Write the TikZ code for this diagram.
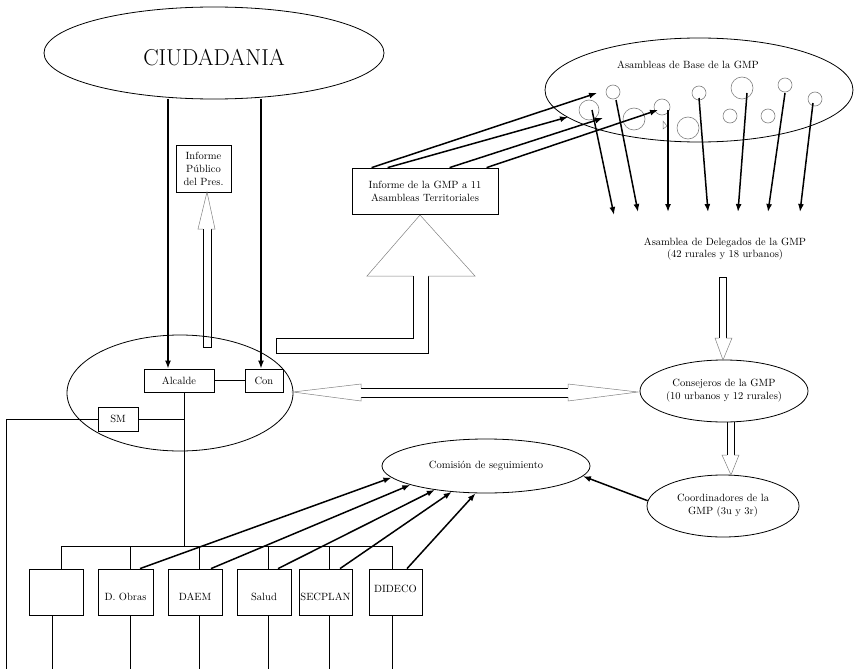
\documentclass[tikz,border=0pt]{standalone}
\usepackage{tikz}
\usetikzlibrary{arrows.meta,shapes.geometric}

\newcommand{\fs}{\fontsize{10.5}{13}\selectfont}
\newcommand{\dn}[2]{\raisebox{-#1}[\height][\depth]{#2}}

\begin{document}
\begin{tikzpicture}[x=1pt, y=-1pt,
    box/.style={draw, line width=0.8pt, inner sep=0pt, align=center, font=\fs},
    oval/.style={draw, ellipse, line width=0.8pt, inner sep=0pt, align=center, font=\fs},
    txt/.style={align=center, font=\fs, inner sep=0pt},
    dot/.style={draw=gray, circle, line width=0.6pt, inner sep=0pt},
    arr/.style={-{Latex[length=8pt,width=6pt]}, line width=1.5pt},
    shaft/.style={line width=0.9pt},
    head/.style={draw=gray, line width=0.5pt}
]
\useasboundingbox (0,0) rectangle (854,669);

% upper part
\node[oval, minimum width=340, minimum height=92, font=\fontsize{23}{26}\selectfont] (ciud) at (214,53) {\dn{5pt}{CIUDADANIA}};
\node[box, minimum width=55, minimum height=47] (pub) at (203.5,168.5) {Informe\\Público\\del Pres.};
\node[box, minimum width=146, minimum height=46] (inf) at (425,191) {Informe de la GMP a 11\\Asambleas Territoriales};

\node[oval, minimum width=308, minimum height=104] (base) at (699,90) {};
\node[txt] (baselbl) at (688,65) {Asambleas de Base de la GMP};
\node[dot, minimum size=14] (c1) at (613,92) {};
\node[dot, minimum size=20] (c2) at (589,110) {};
\node[dot, minimum size=22] (c3) at (634,119) {};
\node[dot, minimum size=16] (c4) at (662,107) {};
\node[dot, minimum size=22] (c6) at (688,128) {};
\node[dot, minimum size=14] (c7) at (699,93) {};
\node[dot, minimum size=22] (c8) at (742,88) {};
\node[dot, minimum size=14] (c9) at (730,116) {};
\node[dot, minimum size=14] (c10) at (768,116) {};
\node[dot, minimum size=14] (c11) at (785,85) {};
\node[dot, minimum size=14] (c12) at (815,99) {};
\draw[head] (663,121) -- (667,126) -- (663,129) -- cycle;

\node[txt, font=\fontsize{10.5}{12}\selectfont] (deleg) at (725,249) {Asamblea de Delegados de la GMP\\(42 rurales y 18 urbanos)};

% middle part
\node[oval, minimum width=226, minimum height=116] (alc) at (180,393) {};
\node[box, minimum width=70, minimum height=23] (alcalde) at (179,380.5) {Alcalde};
\node[box, minimum width=38, minimum height=23] (con) at (264,380.5) {Con};
\node[box, minimum width=40, minimum height=24] (sm) at (118,419) {SM};

\node[oval, minimum width=168, minimum height=62] (cons) at (724,391) {Consejeros de la GMP\\(10 urbanos y 12 rurales)};
\node[oval, minimum width=152, minimum height=62] (coord) at (723,506) {Coordinadores de la\\GMP (3u y 3r)};
\node[oval, minimum width=208, minimum height=54] (com) at (486,466) {Comisión de seguimiento};

% lower part
\node[box, minimum width=54, minimum height=46] (b1) at (56,592) {};
\node[box, minimum width=55, minimum height=46] (obras) at (125.5,592) {\dn{5pt}{D. Obras}};
\node[box, minimum width=54, minimum height=46] (daem) at (195,592) {\dn{5pt}{DAEM}};
\node[box, minimum width=54, minimum height=46] (salud) at (264,592) {\dn{5pt}{Salud}};
\node[box, minimum width=53, minimum height=46] (secplan) at (325.5,592) {\dn{5pt}{SECPLAN}};
\node[box, minimum width=53, minimum height=46] (dideco) at (395.5,592) {\dn{-3pt}{DIDECO}};

% coordinates
\coordinate (t1) at (597,93);
\coordinate (t2) at (568,117);
\coordinate (t3) at (603,118);
\coordinate (t4) at (658,110);
\coordinate (d1) at (614,215);
\coordinate (d2) at (638,212);
\coordinate (d3) at (668,212);
\coordinate (d4) at (708,212);
\coordinate (d5) at (738,212);
\coordinate (d6) at (768,212);
\coordinate (d7) at (800,212);
\coordinate (bus) at (184,546);
\coordinate (lft) at (6,669);

% arrows
\draw[arr] ([xshift=-46pt]ciud.south) -- ([xshift=-11pt]alcalde.north);
\draw[arr] ([xshift=47pt]ciud.south) -- ([xshift=-3pt]con.north);
\draw[arr] ([xshift=20pt]inf.north west) -- (t1);
\draw[arr] ([xshift=36pt]inf.north west) -- (t2);
\draw[arr] ([xshift=98pt]inf.north west) -- (t3);
\draw[arr] ([xshift=135pt]inf.north west) -- (t4);
\draw[arr] ([xshift=3pt]c2.center) -- (d1);
\draw[arr] ([xshift=3pt,yshift=-8pt]c1.center) -- (d2);
\draw[arr] ([xshift=6pt,yshift=-3pt]c4.center) -- (d3);
\draw[arr] ([yshift=-5pt]c7.center) -- (d4);
\draw[arr] ([xshift=5pt,yshift=-5pt]c8.center) -- (d5);
\draw[arr] ([yshift=-8pt]c11.center) -- (d6);
\draw[arr] ([xshift=-2pt,yshift=-4pt]c12.center) -- (d7);

\draw[arr] ([xshift=14.5pt]obras.north) -- (com.187);
\draw[arr] ([xshift=16pt]daem.north) -- (com.194);
\draw[arr] ([xshift=14pt]salud.north) -- (com.205);
\draw[arr] ([xshift=14.5pt]secplan.north) -- (com.217);
\draw[arr] ([xshift=11.5pt]dideco.north) -- (com.249);
\draw[arr] (coord.176) -- (com.-6);

% lines
\draw[line width=0.8pt] (alcalde.east) -- (con.west);
\draw[line width=0.8pt] ([xshift=5pt]alcalde.south) -- (bus);
\draw[line width=0.8pt] (lft) |- (sm.west);
\draw[line width=0.8pt] (sm.east) -- (sm.east -| bus);
\foreach \b/\s in {b1/5, obras/4.5, daem/4, salud/4, secplan/3.5, dideco/-3.5}
  \draw[line width=0.8pt] (\b.north) ++(\s,0) coordinate (t\b) -- ++(0,-23);
\draw[line width=0.8pt] (tb1 |- bus) -- (tdideco |- bus);
\foreach \b/\s in {b1/-4, obras/4.5, daem/4, salud/4, secplan/3.5, dideco/-3.5}
  \draw[line width=0.8pt] (\b.south) ++(\s,0) -- ++(0,54);

% hollow arrows
\draw[shaft] (203,229) -- (203,347) -- (211,347) -- (211,229);
\draw[head] (203,229) -- (198,229) -- (207,192) -- (215,229) -- (211,229);

\draw[shaft] (413,276) -- (413,338) -- (276,338) -- (276,353) -- (428,353) -- (428,276);
\draw[head] (413,276) -- (367,276) -- (420,215) -- (475,276) -- (428,276);

\draw[shaft] (719,338) -- (719,277) -- (726,277) -- (726,338);
\draw[head] (719,338) -- (715,338) -- (723,360) -- (732,338) -- (726,338);

\draw[shaft] (727,455) -- (727,422) (734,422) -- (734,455);
\draw[head] (727,455) -- (722,455) -- (731,475) -- (739,455) -- (734,455);

\draw[shaft] (361,388) -- (568,388) (361,397) -- (568,397);
\draw[head] (361,388) -- (361,384) -- (293,392) -- (361,401) -- (361,397);
\draw[head] (568,388) -- (568,384) -- (638,392) -- (568,401) -- (568,397);
\end{tikzpicture}
\end{document}
